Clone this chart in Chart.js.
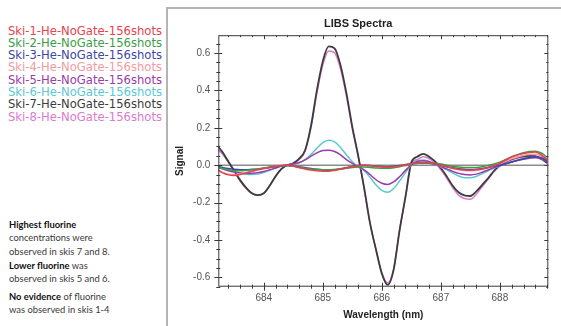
<!DOCTYPE html>
<html>
<head>
<meta charset="utf-8">
<script src="https://cdn.jsdelivr.net/npm/chart.js@4/dist/chart.umd.min.js"></script>
<style>
  html, body { margin: 0; padding: 0; background: #fff; }
  body { width: 561px; height: 326px; position: relative; overflow: hidden; }
  #legend { position: absolute; left: 8px; top: 24.5px; font-family: "DejaVu Sans", sans-serif; font-size: 11.6px; line-height: 12.3px; white-space: nowrap; }
  .note { position: absolute; left: 9px; margin: 0; font-family: Lato, sans-serif; font-size: 9.4px; line-height: 13.3px; color: #3a3a3a; white-space: nowrap; }
  .note b { color: #111; }
  #frame { position: absolute; left: 166px; top: 7px; width: 395px; height: 319px; border-top: 2px solid #b4b4b4; border-left: 2px solid #b4b4b4; }
  #frame canvas { position: absolute; left: 0; top: 0; }
</style>
</head>
<body>
<div id="legend"></div>
<p class="note" style="top:218px"><b>Highest fluorine</b><br>concentrations were<br>observed in skis 7 and 8.</p>
<p class="note" style="top:259px"><b>Lower fluorine</b> was<br>observed in skis 5 and 6.</p>
<p class="note" style="top:290px"><b>No evidence</b> of fluorine<br>was observed in skis 1-4</p>
<div id="frame"><canvas id="libs" width="393" height="317"></canvas></div>
<script>
// longitudes de onda (nm), paso 0.1
const wavelengths = [
  683.2, 683.3, 683.4, 683.5, 683.6, 683.7, 683.8, 683.9, 684.0, 684.1,
  684.2, 684.3, 684.4, 684.5, 684.6, 684.7, 684.8, 684.9, 685.0, 685.1,
  685.2, 685.3, 685.4, 685.5, 685.6, 685.7, 685.8, 685.9, 686.0, 686.1,
  686.2, 686.3, 686.4, 686.5, 686.6, 686.7, 686.8, 686.9, 687.0, 687.1,
  687.2, 687.3, 687.4, 687.5, 687.6, 687.7, 687.8, 687.9, 688.0, 688.1,
  688.2, 688.3, 688.4, 688.5, 688.6, 688.7, 688.8
];

const ski1 = [
  -0.02, -0.04, -0.052, -0.055, -0.05, -0.042, -0.033, -0.025, -0.018, -0.012,
  -0.006, -0.002, 0.0, -0.005, -0.013, -0.02, -0.026, -0.03, -0.032, -0.032,
  -0.028, -0.022, -0.015, -0.008, -0.003, 0.0, -0.002, -0.006, -0.009, -0.01,
  -0.008, -0.004, 0.002, 0.008, 0.013, 0.015, 0.013, 0.008, 0.0, -0.008,
  -0.016, -0.022, -0.026, -0.027, -0.025, -0.02, -0.012, -0.003, 0.01, 0.028,
  0.045, 0.055, 0.062, 0.068, 0.07, 0.055, 0.03
];
const ski2 = [
  -0.01, -0.018, -0.025, -0.03, -0.03, -0.028, -0.025, -0.02, -0.015, -0.01,
  -0.006, -0.003, -0.002, -0.006, -0.011, -0.016, -0.02, -0.023, -0.025, -0.025,
  -0.023, -0.02, -0.016, -0.012, -0.01, -0.01, -0.012, -0.015, -0.017, -0.017,
  -0.014, -0.008, -0.002, 0.004, 0.009, 0.012, 0.012, 0.01, 0.006, 0.0,
  -0.006, -0.01, -0.012, -0.013, -0.012, -0.008, -0.002, 0.006, 0.016, 0.03,
  0.044, 0.056, 0.066, 0.073, 0.075, 0.065, 0.042
];
const ski3 = [
  -0.005, -0.012, -0.018, -0.022, -0.024, -0.024, -0.022, -0.02, -0.016, -0.012,
  -0.008, -0.004, -0.002, -0.004, -0.008, -0.013, -0.018, -0.022, -0.025, -0.026,
  -0.024, -0.019, -0.013, -0.007, -0.002, 0.0, -0.002, -0.005, -0.007, -0.008,
  -0.006, -0.002, 0.003, 0.008, 0.011, 0.012, 0.01, 0.005, -0.001, -0.008,
  -0.014, -0.019, -0.022, -0.023, -0.022, -0.018, -0.012, -0.006, 0.0, 0.008,
  0.017, 0.026, 0.034, 0.041, 0.045, 0.04, 0.025
];
const ski4 = [
  -0.025, -0.04, -0.048, -0.05, -0.046, -0.04, -0.032, -0.025, -0.018, -0.012,
  -0.007, -0.003, -0.002, -0.006, -0.012, -0.018, -0.022, -0.026, -0.028, -0.028,
  -0.025, -0.02, -0.014, -0.008, -0.004, -0.002, -0.004, -0.008, -0.011, -0.012,
  -0.01, -0.005, 0.001, 0.006, 0.01, 0.012, 0.01, 0.005, -0.002, -0.01,
  -0.018, -0.024, -0.028, -0.03, -0.028, -0.022, -0.014, -0.005, 0.006, 0.02,
  0.034, 0.044, 0.052, 0.057, 0.058, 0.048, 0.028
];
const ski5 = [
  -0.01, -0.02, -0.03, -0.037, -0.042, -0.044, -0.043, -0.04, -0.034, -0.025,
  -0.015, -0.005, 0.002, 0.006, 0.014, 0.028, 0.048, 0.066, 0.078, 0.08,
  0.073, 0.055, 0.03, 0.01, -0.008, -0.025, -0.05, -0.078, -0.097, -0.103,
  -0.09, -0.062, -0.028, 0.002, 0.02, 0.024, 0.018, 0.005, -0.008, -0.02,
  -0.033, -0.044, -0.05, -0.052, -0.048, -0.038, -0.026, -0.013, -0.003, 0.008,
  0.017, 0.025, 0.032, 0.037, 0.04, 0.033, 0.018
];
const ski6 = [
  -0.005, -0.015, -0.025, -0.035, -0.043, -0.048, -0.05, -0.048, -0.04, -0.028,
  -0.015, -0.005, 0.0, 0.005, 0.012, 0.03, 0.058, 0.09, 0.12, 0.133,
  0.125, 0.095, 0.055, 0.018, -0.01, -0.03, -0.065, -0.105, -0.135, -0.145,
  -0.125, -0.085, -0.04, 0.0, 0.025, 0.028, 0.02, 0.005, -0.01, -0.025,
  -0.042, -0.058, -0.067, -0.068, -0.06, -0.045, -0.03, -0.015, -0.005, 0.008,
  0.018, 0.027, 0.034, 0.04, 0.042, 0.035, 0.02
];
const ski7 = [
  0.11, 0.07, 0.02, -0.03, -0.08, -0.12, -0.15, -0.16, -0.15, -0.11,
  -0.06, -0.02, 0.0, 0.01, 0.035, 0.08, 0.21, 0.40, 0.555, 0.635,
  0.625, 0.535, 0.385, 0.205, 0.05, -0.12, -0.31, -0.45, -0.58, -0.64,
  -0.56, -0.35, -0.17, 0.015, 0.045, 0.06, 0.045, 0.02, -0.015, -0.06,
  -0.11, -0.145, -0.162, -0.165, -0.14, -0.105, -0.07, -0.03, 0.0, 0.02,
  0.032, 0.042, 0.047, 0.05, 0.048, 0.035, 0.012
];
const ski8 = [
  0.09, 0.06, 0.015, -0.035, -0.085, -0.125, -0.152, -0.162, -0.15, -0.11,
  -0.06, -0.02, 0.0, 0.01, 0.03, 0.075, 0.20, 0.385, 0.535, 0.61,
  0.60, 0.515, 0.37, 0.195, 0.045, -0.125, -0.31, -0.45, -0.575, -0.63,
  -0.555, -0.35, -0.175, 0.005, 0.03, 0.045, 0.035, 0.01, -0.025, -0.07,
  -0.12, -0.16, -0.178, -0.182, -0.155, -0.115, -0.075, -0.035, -0.005, 0.015,
  0.028, 0.038, 0.043, 0.046, 0.045, 0.032, 0.01
];

const seriesLabels = [
  "Ski-1-He-NoGate-156shots", "Ski-2-He-NoGate-156shots",
  "Ski-3-He-NoGate-156shots", "Ski-4-He-NoGate-156shots",
  "Ski-5-He-NoGate-156shots", "Ski-6-He-NoGate-156shots",
  "Ski-7-He-NoGate-156shots", "Ski-8-He-NoGate-156shots"
];
const seriesColors = ["#e8414e", "#3c9c48", "#3b47a8", "#f29aa2", "#9a3ca8", "#5cc8d4", "#3c3c3c", "#dc7ad0"];
const seriesValues = [ski1, ski2, ski3, ski4, ski5, ski6, ski7, ski8];

const xTicks = [684, 685, 686, 687, 688];
const yTicks = [-0.6, -0.4, -0.2, 0.0, 0.2, 0.4, 0.6];

// leyenda de texto a la izquierda
const legendBox = document.getElementById("legend");
seriesLabels.forEach((label, i) => {
  const row = document.createElement("div");
  row.textContent = label;
  row.style.color = seriesColors[i];
  legendBox.appendChild(row);
});

// marco del area, linea del cero y marcas (mayores y menores)
const frameTicks = {
  id: "frameTicks",
  beforeDatasetsDraw(chart) {
    const { ctx, chartArea: a, scales: { y } } = chart;
    const y0 = y.getPixelForValue(0);
    ctx.save();
    ctx.strokeStyle = "#8c8c8c";
    ctx.lineWidth = 1.5;
    ctx.beginPath();
    ctx.moveTo(a.left, y0);
    ctx.lineTo(a.right, y0);
    ctx.stroke();
    ctx.restore();
  },
  afterDatasetsDraw(chart) {
    const { ctx, chartArea: a, scales: { x, y } } = chart;
    ctx.save();
    ctx.strokeStyle = "#3a3a3a";
    ctx.lineWidth = 1;
    ctx.strokeRect(a.left + 0.5, a.top + 0.5, a.right - a.left - 1, a.bottom - a.top - 1);

    ctx.beginPath();
    for (let k = Math.ceil(x.min / 0.2); k <= Math.floor(x.max / 0.2); k++) {
      const v = k * 0.2;
      const major = Math.abs(v - Math.round(v)) < 1e-6;
      const px = Math.round(x.getPixelForValue(v)) + 0.5;
      const len = major ? 4 : 2;
      ctx.moveTo(px, a.bottom - len);
      ctx.lineTo(px, a.bottom + len);
      ctx.moveTo(px, a.top);
      ctx.lineTo(px, a.top + len);
    }
    for (let k = Math.ceil(y.min / 0.05); k <= Math.floor(y.max / 0.05); k++) {
      const v = k * 0.05;
      const major = k % 4 === 0;
      const py = Math.round(y.getPixelForValue(v)) + 0.5;
      const len = major ? 4 : 2;
      ctx.moveTo(a.left - len, py);
      ctx.lineTo(a.left + len, py);
      ctx.moveTo(a.right, py);
      ctx.lineTo(a.right - len, py);
    }
    ctx.stroke();
    ctx.restore();
  }
};

const ctx = document.getElementById("libs").getContext("2d");

new Chart(ctx, {
  type: "line",
  data: {
    datasets: seriesValues.map((vals, i) => ({
      label: seriesLabels[i],
      data: vals.map((v, j) => ({ x: wavelengths[j], y: v })),
      borderColor: seriesColors[i],
      backgroundColor: seriesColors[i],
      borderWidth: i === 6 ? 1.8 : 1.5,
      pointRadius: 0,
      cubicInterpolationMode: "monotone",
      fill: false,
    })),
  },
  options: {
    responsive: false,
    animation: false,
    devicePixelRatio: 1,
    layout: { padding: { left: 0, right: 12.7, top: 0, bottom: 0 } },
    plugins: {
      legend: { display: false },
      tooltip: { enabled: false },
      title: {
        display: true,
        text: "LIBS Spectra",
        color: "#222",
        font: { family: "Liberation Sans", size: 11, weight: "bold" },
        padding: { top: 8, bottom: 5 },
      },
    },
    scales: {
      x: {
        type: "linear",
        min: 683.23,
        max: 688.82,
        afterBuildTicks: (scale) => { scale.ticks = xTicks.map((v) => ({ value: v })); },
        afterFit: (scale) => { scale.height = 39.3; },
        grid: { display: false, drawTicks: false },
        border: { display: false },
        ticks: {
          padding: 6,
          color: "#555",
          font: { family: "Liberation Sans", size: 10 },
          callback: (v) => String(v),
        },
        title: {
          display: true,
          text: "Wavelength (nm)",
          color: "#222",
          font: { family: "Liberation Sans", size: 10, weight: "bold" },
          padding: { top: 0, bottom: 5 },
        },
      },
      y: {
        min: -0.65,
        max: 0.695,
        afterBuildTicks: (scale) => { scale.ticks = yTicks.map((v) => ({ value: v })); },
        afterFit: (scale) => { scale.width = 50.3; },
        grid: { display: false, drawTicks: false },
        border: { display: false },
        ticks: {
          padding: 8,
          color: "#555",
          font: { family: "Liberation Sans", size: 10 },
          callback: (v) => v.toFixed(1),
        },
        title: {
          display: true,
          text: "Signal",
          color: "#222",
          font: { family: "Liberation Sans", size: 10, weight: "bold" },
          padding: { top: 6, bottom: 0 },
        },
      },
    },
  },
  plugins: [frameTicks],
});
</script>
</body>
</html>
